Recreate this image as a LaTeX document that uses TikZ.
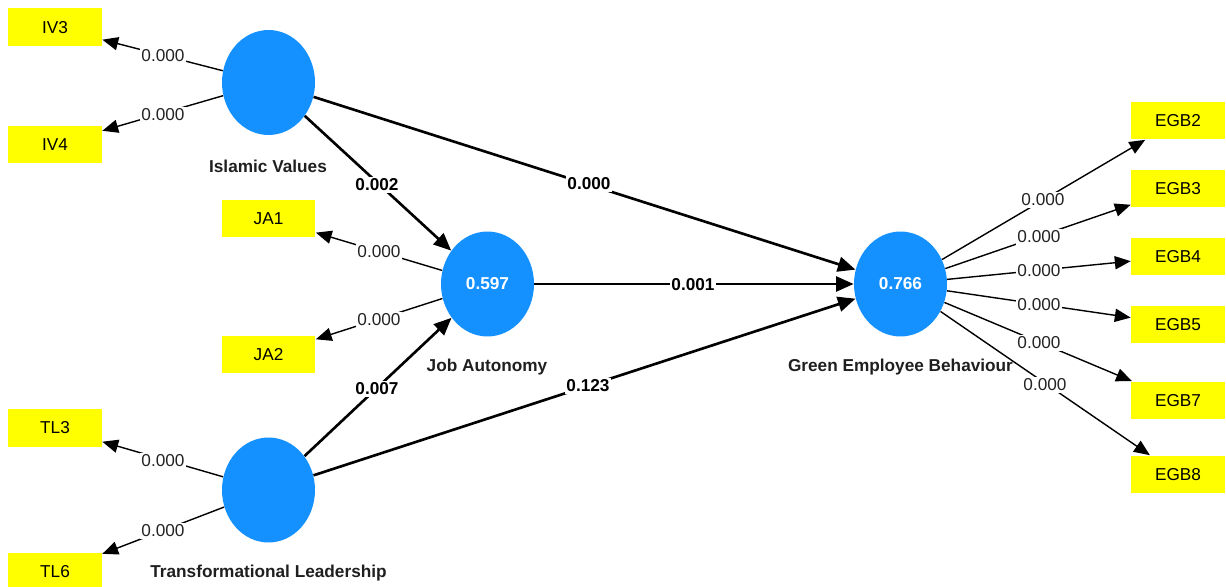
\documentclass[tikz,border=0pt]{standalone}
\usepackage{fontspec}
\setmainfont{Liberation Sans}
\usetikzlibrary{shapes.geometric,arrows.meta}
\definecolor{lvblue}{RGB}{20,145,255}
\definecolor{mvyellow}{RGB}{255,255,0}
\definecolor{lbl}{RGB}{35,35,35}
\tikzset{
 mv/.style={fill=mvyellow, minimum width=1.88cm, minimum height=0.76cm, inner sep=0pt, font=\fontsize{9.8}{11}\selectfont},
 lv/.style={ellipse, fill=lvblue, minimum width=1.86cm, minimum height=2.1cm, inner sep=0pt, text=white, font=\bfseries\fontsize{9.8}{11}\selectfont},
 lvname/.style={font=\bfseries\fontsize{9.8}{11}\selectfont, text=black!88},
 load/.style={-{Triangle[length=9pt,width=7.5pt]}, line width=0.8pt, black},
 struct/.style={-{Triangle[length=10pt,width=8.5pt]}, line width=1.5pt, black},
 lab/.style={fill=white, inner sep=1pt, text=lbl, font=\fontsize{9.8}{11}\selectfont},
 slab/.style={fill=white, inner sep=1pt, text=black, font=\bfseries\fontsize{9.8}{11}\selectfont},
}
\begin{document}
\begin{tikzpicture}[x=0.02cm, y=-0.02cm]
\useasboundingbox (0,0) rectangle (1226,587);
% latent variables
\node[lv] (iv) at (268.5,82.5) {};
\node[lv] (ja) at (487.5,284) {0.597};
\node[lv] (tl) at (268.5,490) {};
\node[lv] (geb) at (900.5,284) {0.766};
% latent names
\node[lvname] (ivn) at (268,166) {Islamic Values};
\node[lvname] (jan) at (487,367) {Job Autonomy};
\node[lvname] (tln) at (268.5,573) {Transformational Leadership};
\node[lvname] (gebn) at (900.5,367) {Green Employee Behaviour};
% indicators
\node[mv] (iv3) at (55,27.5) {IV3};
\node[mv] (iv4) at (55,144.5) {IV4};
\node[mv] (ja1) at (268.5,218.5) {JA1};
\node[mv] (ja2) at (268.5,354.5) {JA2};
\node[mv] (tl3) at (55,428) {TL3};
\node[mv] (tl6) at (55,572) {TL6};
\node[mv] (egb2) at (1178,120.5) {EGB2};
\node[mv] (egb3) at (1178,188.5) {EGB3};
\node[mv] (egb4) at (1178,256.5) {EGB4};
\node[mv] (egb5) at (1178,324.5) {EGB5};
\node[mv] (egb7) at (1178,400.5) {EGB7};
\node[mv] (egb8) at (1178,474.5) {EGB8};
% loadings
\draw[load] (iv) -- (iv3);
\draw[load] (iv) -- (iv4);
\draw[load] (ja) -- (ja1);
\draw[load] (ja) -- (ja2);
\draw[load] (tl) -- (tl3);
\draw[load] (tl) -- (tl6);
\draw[load] (geb) -- (egb2);
\draw[load] (geb) -- (egb3);
\draw[load] (geb) -- (egb4);
\draw[load] (geb) -- (egb5);
\draw[load] (geb) -- (egb7);
\draw[load] (geb) -- (egb8);
% structural paths
\draw[struct] (iv) -- (ja);
\draw[struct] (iv) -- (geb);
\draw[struct] (ja) -- (geb);
\draw[struct] (tl) -- (ja);
\draw[struct] (tl) -- (geb);
% loading labels
\node[lab] (l1) at (163,56) {0.000};
\node[lab] (l2) at (163,115) {0.000};
\node[lab] (l3) at (379,252) {0.000};
\node[lab] (l4) at (379,320) {0.000};
\node[lab] (l5) at (163,461) {0.000};
\node[lab] (l6) at (163,531) {0.000};
\node[lab] (l7) at (1043,200) {0.000};
\node[lab] (l8) at (1039,237) {0.000};
\node[lab] (l9) at (1039,271) {0.000};
\node[lab] (l10) at (1039,305) {0.000};
\node[lab] (l11) at (1039,343) {0.000};
\node[lab] (l12) at (1045,385) {0.000};
% path labels
\node[slab] (s1) at (377,185) {0.002};
\node[slab] (s2) at (589,184) {0.000};
\node[slab] (s3) at (693,285) {0.001};
\node[slab] (s4) at (377,389) {0.007};
\node[slab] (s5) at (588,386) {0.123};
\end{tikzpicture}
\end{document}
